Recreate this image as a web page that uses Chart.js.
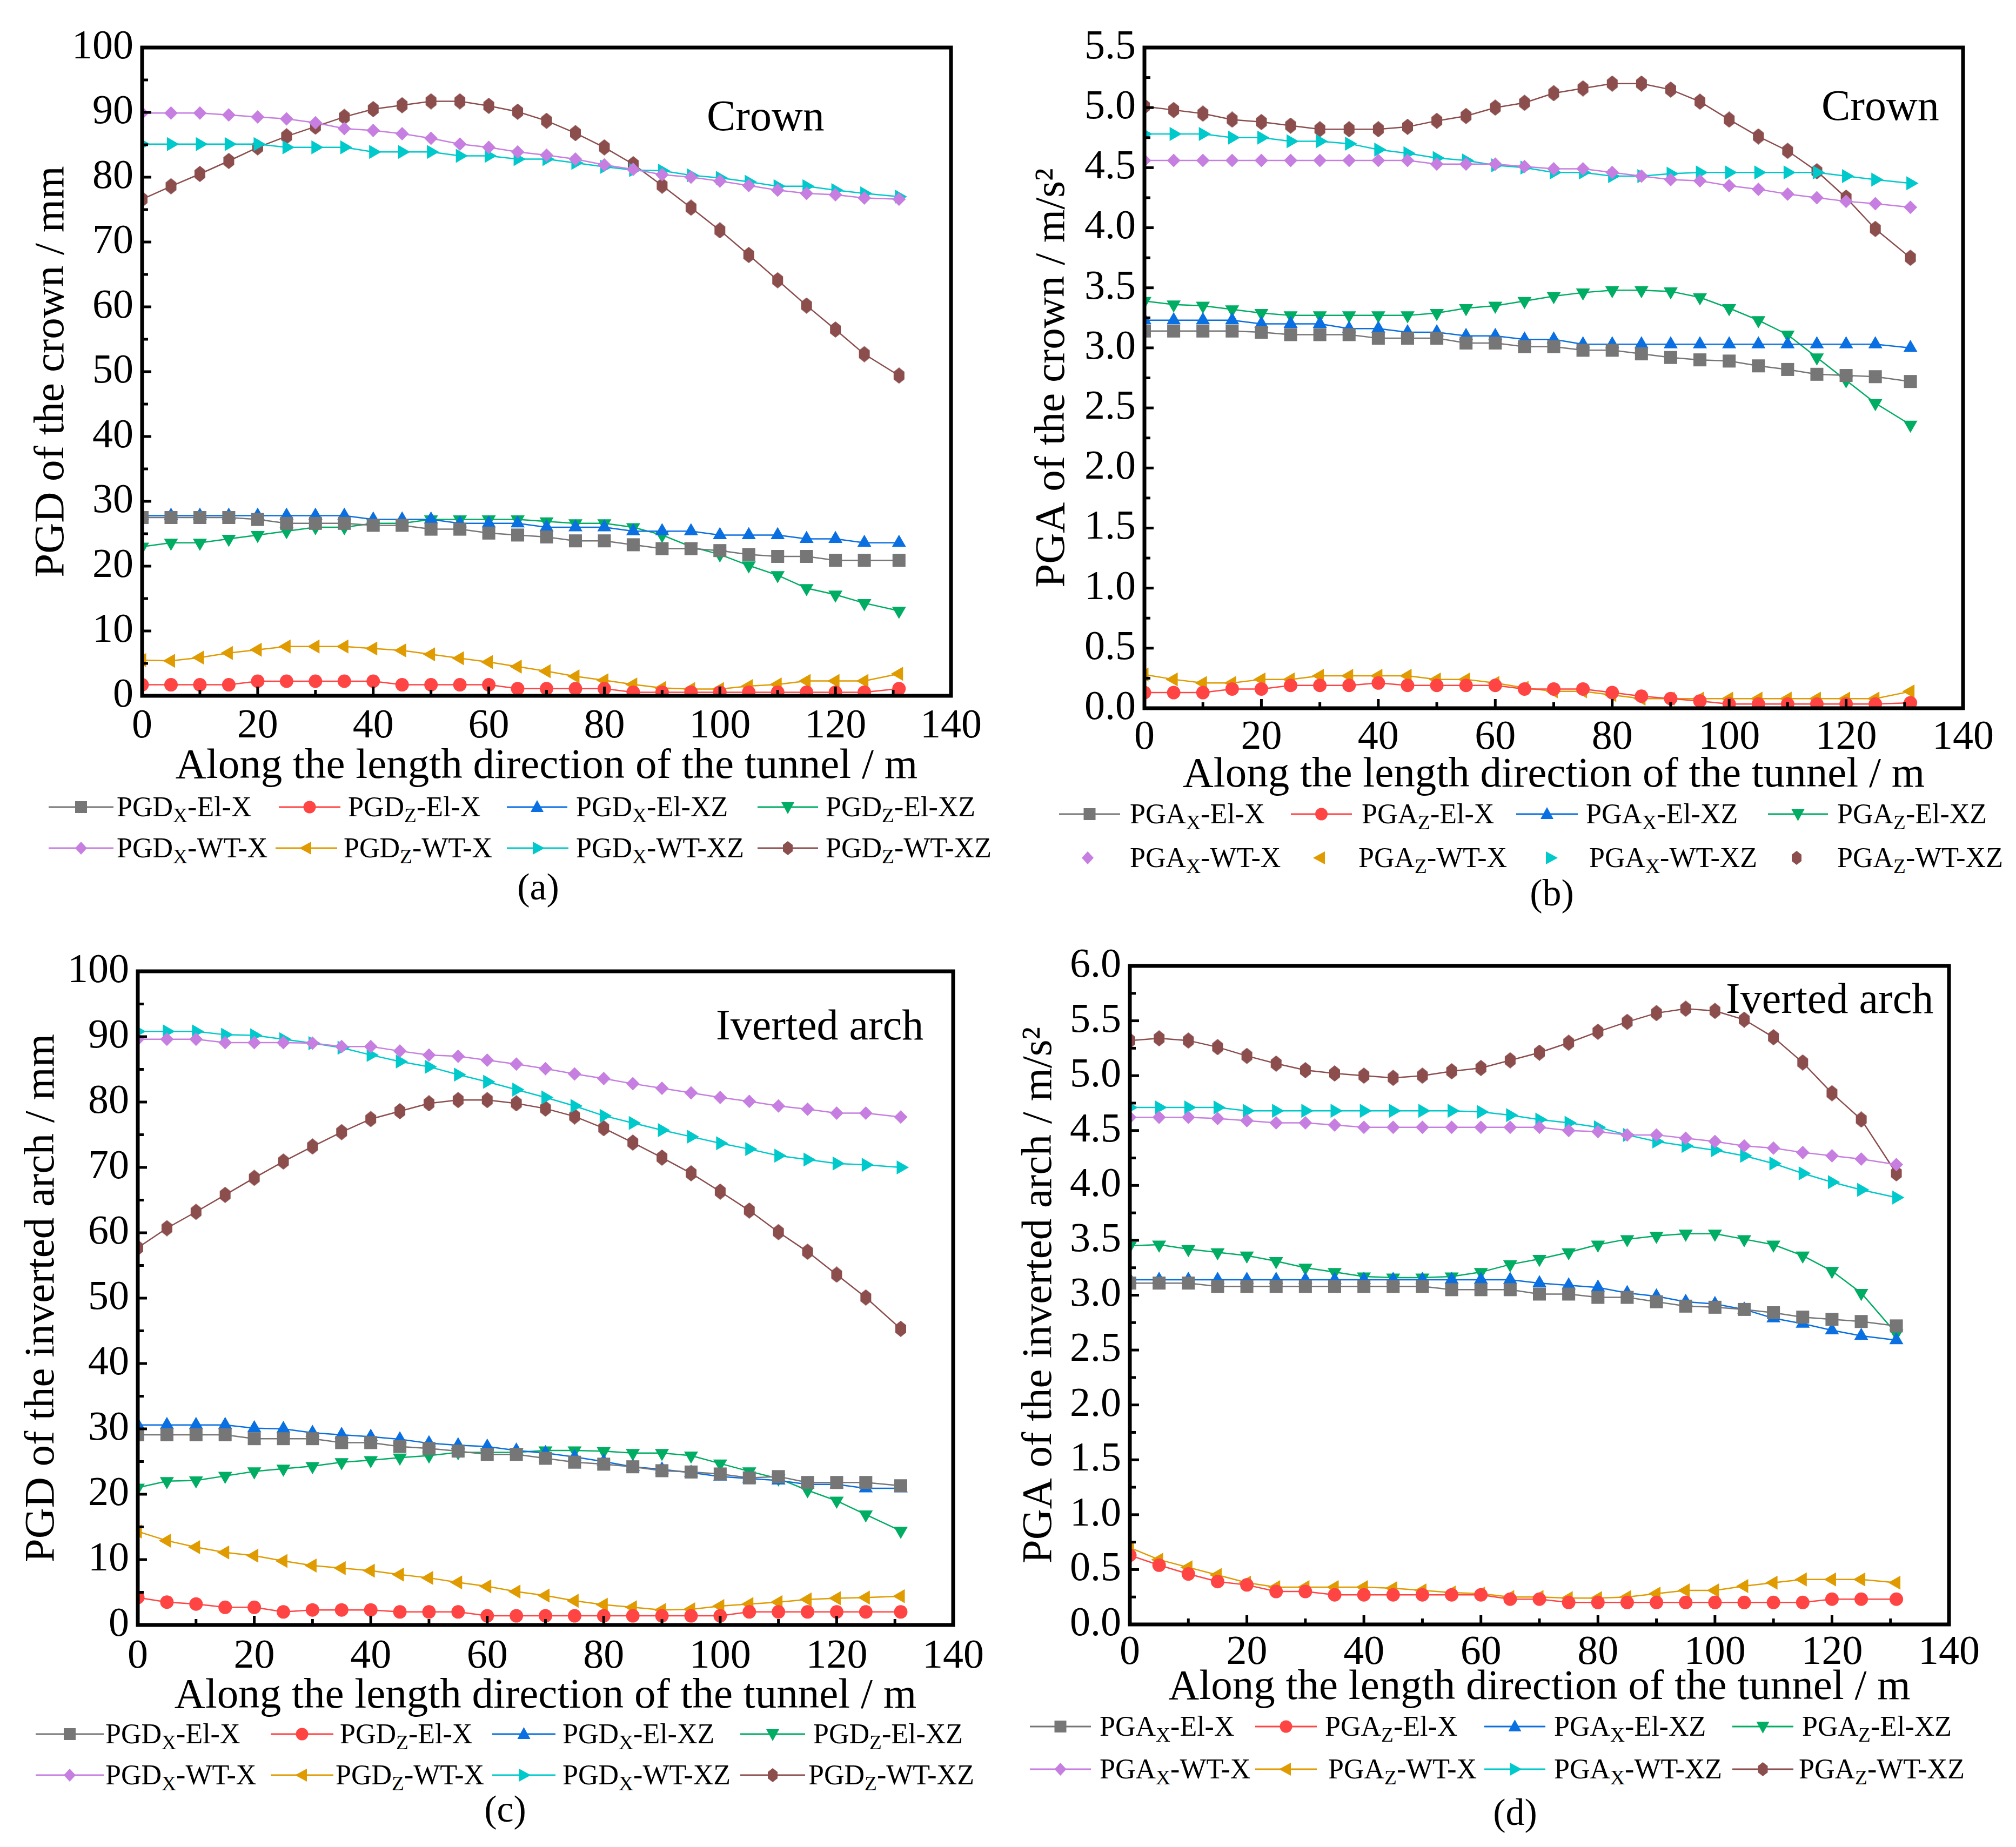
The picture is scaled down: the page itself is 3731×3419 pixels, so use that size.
<!DOCTYPE html>
<html><head><meta charset="utf-8">
<script src="https://cdn.jsdelivr.net/npm/chart.js@4.4.1/dist/chart.umd.min.js"></script>
<style>
html,body{margin:0;padding:0;background:#fff;}
#page{position:relative;width:3731px;height:3419px;overflow:hidden;background:#fff;font-family:'Liberation Serif','Times New Roman',serif;color:#000;}
#page canvas{position:absolute;}
.t{position:absolute;white-space:nowrap;line-height:1;transform:translateY(-50%);}
.c{position:absolute;white-space:nowrap;line-height:1;transform:translate(-50%,-50%);}
.lg{position:absolute;white-space:nowrap;line-height:1;font-size:52px;transform:translateY(-50%);}
.lg sub{font-size:0.72em;vertical-align:-0.3em;line-height:0;}
svg.mk{position:absolute;overflow:visible;}
</style></head><body><div id="page"></div>
<script>
// ---------- data ----------
const xPos = [0,5,10,15,20,25,30,35,40,45,50,55,60,65,70,75,80,85,90,95,100,105,110,115,120,125,131];
const xTicks = [0,20,40,60,80,100,120,140];
const seriesLabels = ['X-El-X','Z-El-X','X-El-XZ','Z-El-XZ','X-WT-X','Z-WT-X','X-WT-XZ','Z-WT-XZ'];

// (a) PGD of the crown / mm
const aElX_X  = [27.5,27.5,27.5,27.5,27.2,26.6,26.6,26.6,26.3,26.3,25.7,25.7,25.1,24.8,24.5,23.9,23.9,23.3,22.7,22.7,22.4,21.8,21.5,21.5,20.9,20.9,20.9];
const aElX_Z  = [1.7,1.7,1.7,1.7,2.25,2.25,2.25,2.25,2.25,1.7,1.7,1.7,1.7,1.1,1.1,1.1,1.1,0.55,0.55,0.55,0.55,0.55,0.55,0.55,0.55,0.55,1.1];
const aElXZ_X = [27.8,27.8,27.8,27.8,27.8,27.8,27.8,27.8,27.2,27.2,27.2,26.6,26.6,26.6,26.0,26.0,26.0,25.4,25.4,25.4,24.8,24.8,24.8,24.2,24.2,23.6,23.6];
const aElXZ_Z = [23.0,23.6,23.6,24.2,24.8,25.4,26.0,26.0,26.6,26.6,27.2,27.2,27.2,27.2,26.9,26.6,26.6,26.0,24.8,23.0,21.8,20.1,18.6,16.6,15.6,14.3,13.1];
const aWTX_X  = [89.9,89.9,89.9,89.6,89.3,89.0,88.4,87.5,87.2,86.7,86.0,85.1,84.6,83.9,83.4,82.8,81.9,81.2,80.4,80.0,79.4,78.7,78.0,77.5,77.3,76.8,76.6];
const aWTX_Z  = [5.5,5.4,5.9,6.6,7.1,7.6,7.6,7.6,7.3,7.0,6.4,5.8,5.2,4.5,3.8,3.0,2.4,1.75,1.2,1.05,1.05,1.5,1.75,2.3,2.3,2.3,3.4];
const aWTXZ_X = [85.1,85.1,85.1,85.1,85.1,84.6,84.6,84.6,83.9,83.9,83.9,83.3,83.3,82.8,82.8,82.2,81.6,81.1,81.0,80.3,79.9,79.3,78.6,78.6,78.0,77.5,77.0];
const aWTXZ_Z = [76.6,78.6,80.5,82.5,84.6,86.3,87.8,89.3,90.5,91.1,91.7,91.7,91.0,90.1,88.7,86.8,84.6,82.0,78.7,75.3,71.8,68.0,64.1,60.2,56.5,52.7,49.4];

// (b) PGA of the crown / m/s2
const bElX_X  = [3.14,3.14,3.14,3.14,3.13,3.11,3.11,3.11,3.08,3.08,3.08,3.04,3.04,3.01,3.01,2.98,2.98,2.95,2.92,2.90,2.89,2.85,2.82,2.78,2.77,2.76,2.72];
const bElX_Z  = [0.13,0.13,0.13,0.16,0.16,0.19,0.19,0.19,0.21,0.19,0.19,0.19,0.19,0.16,0.16,0.16,0.13,0.10,0.08,0.06,0.035,0.035,0.035,0.035,0.035,0.035,0.045];
const bElXZ_X = [3.23,3.23,3.23,3.23,3.20,3.20,3.20,3.16,3.16,3.13,3.13,3.10,3.10,3.07,3.07,3.03,3.03,3.03,3.03,3.03,3.03,3.03,3.03,3.03,3.03,3.03,3.00];
const bElXZ_Z = [3.39,3.36,3.35,3.32,3.29,3.27,3.27,3.27,3.27,3.27,3.29,3.33,3.35,3.39,3.43,3.46,3.48,3.48,3.47,3.42,3.33,3.23,3.11,2.92,2.73,2.54,2.36];
const bWTX_X  = [4.56,4.56,4.56,4.56,4.56,4.56,4.56,4.56,4.56,4.56,4.53,4.53,4.53,4.51,4.49,4.49,4.46,4.43,4.40,4.39,4.35,4.32,4.28,4.25,4.22,4.20,4.17];
const bWTX_Z  = [0.28,0.24,0.21,0.21,0.24,0.24,0.27,0.27,0.27,0.27,0.24,0.24,0.21,0.17,0.14,0.14,0.11,0.08,0.08,0.08,0.08,0.08,0.08,0.08,0.08,0.08,0.14];
const bWTXZ_X = [4.78,4.78,4.78,4.75,4.75,4.72,4.72,4.70,4.65,4.62,4.58,4.56,4.52,4.50,4.46,4.46,4.43,4.43,4.45,4.46,4.46,4.46,4.46,4.46,4.43,4.40,4.37];
const bWTXZ_Z = [5.01,4.98,4.95,4.90,4.88,4.85,4.82,4.82,4.82,4.84,4.89,4.93,5.00,5.04,5.12,5.16,5.20,5.20,5.15,5.05,4.90,4.76,4.64,4.47,4.25,3.99,3.75];

// (c) PGD of the inverted arch / mm
const cElX_X  = [29.1,29.1,29.1,29.1,28.5,28.5,28.5,27.9,27.9,27.3,27.0,26.6,26.1,26.1,25.5,24.9,24.6,24.2,23.6,23.4,23.1,22.5,22.7,21.8,21.8,21.8,21.3];
const cElX_Z  = [4.2,3.5,3.2,2.7,2.7,2.0,2.3,2.3,2.3,2.0,2.0,2.0,1.4,1.4,1.4,1.4,1.4,1.4,1.4,1.4,1.4,2.0,2.0,2.0,2.0,2.0,2.0];
const cElXZ_X = [30.6,30.6,30.6,30.6,30.1,30.0,29.4,29.1,28.8,28.4,27.8,27.5,27.3,26.7,26.3,25.7,25.0,24.2,23.8,23.3,22.7,22.4,22.1,21.5,21.5,20.9,20.9];
const cElXZ_Z = [21.0,22.0,22.1,22.8,23.5,23.9,24.3,24.9,25.2,25.6,25.9,26.4,26.4,26.4,26.7,26.7,26.6,26.3,26.3,25.9,24.7,23.5,22.4,20.6,19.0,16.9,14.4];
const cWTX_X  = [89.6,89.6,89.6,89.1,89.1,89.1,89.0,88.5,88.5,87.8,87.2,87.0,86.4,85.8,85.1,84.3,83.6,82.8,82.1,81.4,80.7,80.1,79.4,78.9,78.3,78.3,77.7];
const cWTX_Z  = [14.3,12.9,11.9,11.1,10.6,9.8,9.1,8.7,8.3,7.7,7.2,6.5,5.9,5.1,4.5,3.7,3.1,2.7,2.3,2.4,2.9,3.2,3.5,3.9,4.1,4.2,4.4];
const cWTXZ_X = [90.8,90.8,90.8,90.3,90.2,89.6,89.0,88.3,87.2,86.2,85.4,84.2,83.1,81.9,80.7,79.4,77.9,76.8,75.7,74.7,73.7,72.8,71.8,71.2,70.6,70.4,70.0];
const cWTXZ_Z = [57.7,60.7,63.2,65.8,68.4,70.9,73.2,75.4,77.4,78.6,79.8,80.3,80.3,79.8,79.0,77.8,76.0,73.8,71.5,69.1,66.3,63.4,60.1,57.1,53.6,50.1,45.3];

// (d) PGA of the inverted arch / m/s2
const dElX_X  = [3.11,3.11,3.11,3.08,3.08,3.08,3.08,3.08,3.08,3.08,3.08,3.05,3.05,3.05,3.01,3.01,2.98,2.98,2.94,2.90,2.89,2.87,2.84,2.80,2.78,2.76,2.72];
const dElX_Z  = [0.63,0.54,0.46,0.39,0.36,0.30,0.30,0.27,0.27,0.27,0.27,0.27,0.27,0.23,0.23,0.20,0.20,0.20,0.20,0.20,0.20,0.20,0.20,0.20,0.23,0.23,0.23];
const dElXZ_X = [3.14,3.14,3.14,3.14,3.14,3.14,3.14,3.14,3.14,3.14,3.14,3.14,3.14,3.14,3.11,3.09,3.07,3.02,2.99,2.94,2.92,2.87,2.79,2.74,2.68,2.63,2.59];
const dElXZ_Z = [3.45,3.46,3.42,3.39,3.36,3.31,3.25,3.21,3.17,3.16,3.16,3.17,3.21,3.28,3.33,3.39,3.46,3.51,3.54,3.56,3.56,3.51,3.46,3.36,3.22,3.02,2.65];
const dWTX_X  = [4.62,4.62,4.62,4.61,4.59,4.57,4.57,4.55,4.53,4.53,4.53,4.53,4.53,4.53,4.53,4.50,4.49,4.46,4.46,4.43,4.40,4.36,4.34,4.30,4.27,4.24,4.19];
const dWTX_Z  = [0.70,0.59,0.52,0.45,0.38,0.34,0.34,0.34,0.34,0.33,0.31,0.29,0.28,0.25,0.25,0.24,0.24,0.25,0.28,0.31,0.31,0.35,0.38,0.41,0.41,0.41,0.38];
const dWTXZ_X = [4.71,4.71,4.71,4.71,4.68,4.68,4.68,4.68,4.68,4.68,4.68,4.68,4.67,4.64,4.60,4.57,4.53,4.46,4.40,4.36,4.32,4.27,4.20,4.11,4.03,3.96,3.89];
const dWTXZ_Z = [5.32,5.34,5.32,5.26,5.18,5.11,5.05,5.02,5.00,4.98,5.00,5.04,5.07,5.14,5.21,5.30,5.40,5.49,5.57,5.61,5.59,5.51,5.35,5.12,4.84,4.60,4.11];

// ---------- styles ----------
const FONT = "'Liberation Serif','Times New Roman',serif";
const colors = ['#767676','#ff4444','#0a6fe0','#00ad63','#c67ee0','#df9b00','#00c9cc','#8c4d4d'];
const shapes = ['rect','circle','tri','tridown','diamond','trileft','triright','hex'];

function hexCanvas(color){
  const c=document.createElement('canvas'); c.width=22; c.height=30;
  const g=c.getContext('2d'); g.fillStyle=color; g.beginPath();
  g.moveTo(11,0); g.lineTo(21,8); g.lineTo(21,22); g.lineTo(11,30); g.lineTo(1,22); g.lineTo(1,8); g.closePath(); g.fill();
  return c;
}
function pointOpts(i){
  const s=shapes[i];
  switch(s){
    case 'rect': return {pointStyle:'rect',pointRadius:17,pointRotation:0};
    case 'circle': return {pointStyle:'circle',pointRadius:12.5,pointRotation:0};
    case 'tri': return {pointStyle:'triangle',pointRadius:15,pointRotation:0};
    case 'tridown': return {pointStyle:'triangle',pointRadius:15,pointRotation:180};
    case 'diamond': return {pointStyle:'rectRot',pointRadius:12.5,pointRotation:0};
    case 'trileft': return {pointStyle:'triangle',pointRadius:15,pointRotation:-90};
    case 'triright': return {pointStyle:'triangle',pointRadius:15,pointRotation:90};
    case 'hex': return {pointStyle:hexCanvas(colors[i]),pointRadius:12,pointRotation:0};
  }
}
function svgShape(s,cx,cy,col){
  switch(s){
    case 'rect': return `<rect x="${cx-11}" y="${cy-11}" width="22" height="22" fill="${col}"/>`;
    case 'circle': return `<circle cx="${cx}" cy="${cy}" r="11.5" fill="${col}"/>`;
    case 'tri': return `<polygon points="${cx},${cy-13} ${cx+12},${cy+9} ${cx-12},${cy+9}" fill="${col}"/>`;
    case 'tridown': return `<polygon points="${cx},${cy+13} ${cx+12},${cy-9} ${cx-12},${cy-9}" fill="${col}"/>`;
    case 'diamond': return `<polygon points="${cx},${cy-12} ${cx+11},${cy} ${cx},${cy+12} ${cx-11},${cy}" fill="${col}"/>`;
    case 'trileft': return `<polygon points="${cx-13},${cy} ${cx+9},${cy-12} ${cx+9},${cy+12}" fill="${col}"/>`;
    case 'triright': return `<polygon points="${cx+13},${cy} ${cx-9},${cy-12} ${cx-9},${cy+12}" fill="${col}"/>`;
    case 'hex': return `<polygon points="${cx},${cy-13} ${cx+9},${cy-6} ${cx+9},${cy+6} ${cx},${cy+13} ${cx-9},${cy+6} ${cx-9},${cy-6}" fill="${col}"/>`;
  }
}

const panels = [
  {tag:'(a)', prefix:'PGD', left:0, top:0, W:1870, L:263, T:88, R:1760, B:1288, tickOff:11, titleOff:132, yTitleX:96,
   yMax:100, yStep:10, dec:0, yTitle:'PGD of the crown / mm',
   data:[aElX_X,aElX_Z,aElXZ_X,aElXZ_Z,aWTX_X,aWTX_Z,aWTXZ_X,aWTXZ_Z],
   note:{text:'Crown', x:1308, y:214}, tagPos:[996,1642],
   rows:[1494,1570], legend:[[[90,210,216],[516,630,644],[938,1050,1066],[1402,1514,1528]],[[90,210,216],[510,624,636],[938,1052,1066],[1402,1514,1528]]], row2Line:true},
  {tag:'(b)', prefix:'PGA', left:1870, top:0, W:1861, L:248, T:88, R:1763, B:1311, tickOff:9, titleOff:125, yTitleX:78,
   yMax:5.5, yStep:0.5, dec:1, yTitle:'PGA of the crown / m/s\u00b2',
   data:[bElX_X,bElX_Z,bElXZ_X,bElXZ_Z,bWTX_X,bWTX_Z,bWTXZ_X,bWTXZ_Z],
   note:{text:'Crown', x:3371, y:195}, tagPos:[2872,1653],
   rows:[1507,1588], legend:[[[1960,2073,2091],[2389,2502,2520],[2806,2920,2935],[3272,3383,3400]],[[1957,2069,2091],[2387,2499,2514],[2814,2926,2941],[3269,3381,3400]]], row2Line:false},
  {tag:'(c)', prefix:'PGD', left:0, top:1700, W:1870, L:255, T:98, R:1764, B:1308, tickOff:13, titleOff:133, yTitleX:78,
   yMax:100, yStep:10, dec:0, yTitle:'PGD of the inverted arch / mm',
   data:[cElX_X,cElX_Z,cElXZ_X,cElXZ_Z,cWTX_X,cWTX_Z,cWTXZ_X,cWTXZ_Z],
   note:{text:'Iverted arch', x:1325, y:1897}, tagPos:[935,3349],
   rows:[3210,3286], legend:[[[66,192,195],[501,617,629],[911,1028,1041],[1370,1490,1505]],[[66,192,195],[501,617,621],[911,1028,1041],[1370,1490,1496]]], row2Line:true},
  {tag:'(d)', prefix:'PGA', left:1870, top:1700, W:1861, L:221, T:88, R:1737, B:1307, tickOff:7, titleOff:118, yTitleX:54,
   yMax:6, yStep:0.5, dec:1, yTitle:'PGA of the inverted arch / m/s\u00b2',
   data:[dElX_X,dElX_Z,dElXZ_X,dElXZ_Z,dWTX_X,dWTX_Z,dWTXZ_X,dWTXZ_Z],
   note:{text:'Iverted arch', x:3194, y:1848}, tagPos:[2804,3355],
   rows:[3196,3275], legend:[[[1906,2019,2035],[2323,2437,2452],[2747,2860,2876],[3206,3319,3335]],[[1906,2019,2035],[2323,2437,2458],[2747,2860,2876],[3206,3319,3329]]], row2Line:true}
];

const page=document.getElementById('page');
const TICK_FS=76, TITLE_FS=79, TITLE_LH=TITLE_FS*1.2;

const framePlugin = {
  id:'frame',
  afterDraw(chart, args, opts){
    const {ctx, chartArea:a, scales} = chart;
    ctx.save();
    ctx.strokeStyle='#000'; ctx.lineCap='butt';
    ctx.lineWidth=5;
    const xs=scales.x, ys=scales.y;
    for(let v=0; v<=140; v+=10){
      const px=xs.getPixelForValue(v); const len=(v%20===0)?17:11;
      ctx.beginPath(); ctx.moveTo(px,a.bottom); ctx.lineTo(px,a.bottom-len); ctx.stroke();
    }
    const st=opts.step/2;
    for(let k=0; k*st<=opts.max+1e-9; k++){
      const v=k*st; const py=ys.getPixelForValue(v); const len=(k%2===0)?17:11;
      ctx.beginPath(); ctx.moveTo(a.left,py); ctx.lineTo(a.left+len,py); ctx.stroke();
    }
    ctx.lineWidth=7;
    ctx.strokeRect(a.left, a.top, a.right-a.left, a.bottom-a.top);
    ctx.restore();
  }
};

panels.forEach(p=>{
  const H = Math.round(p.B + p.titleOff + TITLE_LH/2);
  const cv=document.createElement('canvas');
  cv.width=p.W; cv.height=H;
  cv.style.left=p.left+'px'; cv.style.top=p.top+'px';
  cv.style.width=p.W+'px'; cv.style.height=H+'px';
  page.appendChild(cv);
  const datasets = p.data.map((arr,i)=>Object.assign({
    label: p.prefix+seriesLabels[i],
    data: xPos.map((x,j)=>({x:x,y:arr[j]})),
    borderColor: colors[i], backgroundColor: colors[i],
    borderWidth: 2.5, pointBorderWidth: 0, tension: 0, fill:false
  }, pointOpts(i)));
  new Chart(cv, {
    type:'line',
    data:{datasets},
    options:{
      responsive:false, animation:false, devicePixelRatio:1,
      layout:{padding:{left:0, top:p.T, right:p.W-p.R, bottom:0}},
      plugins:{legend:{display:false}, tooltip:{enabled:false}, frame:{step:p.yStep, max:p.yMax}},
      scales:{
        x:{type:'linear', min:0, max:140, position:'bottom',
           afterBuildTicks(s){ s.ticks = xTicks.map(v=>({value:v})); },
           ticks:{font:{family:FONT,size:TICK_FS}, color:'#000', padding:p.tickOff, maxRotation:0, autoSkip:false},
           grid:{display:false, drawTicks:false}, border:{display:false},
           title:{display:true, text:'Along the length direction of the tunnel / m', color:'#000',
                  font:{family:FONT,size:TITLE_FS,lineHeight:1.2}, padding:0},
           afterFit(s){ s.height = H - p.B; }},
        y:{type:'linear', min:0, max:p.yMax,
           ticks:{stepSize:p.yStep, font:{family:FONT,size:TICK_FS}, color:'#000', padding:16, autoSkip:false,
                  callback:(v)=>Number(v).toFixed(p.dec)},
           grid:{display:false, drawTicks:false}, border:{display:false},
           title:{display:true, text:p.yTitle, color:'#000', font:{family:FONT,size:TITLE_FS,lineHeight:1.2},
                  padding:{top:p.yTitleX - TITLE_LH/2, bottom:0}},
           afterFit(s){ s.width = p.L; }}
      }
    },
    plugins:[framePlugin]
  });

  const n=document.createElement('div'); n.className='t'; n.textContent=p.note.text;
  n.style.left=p.note.x+'px'; n.style.top=p.note.y+'px'; n.style.fontSize='80px'; page.appendChild(n);
  const tg=document.createElement('div'); tg.className='c'; tg.textContent=p.tag;
  tg.style.left=p.tagPos[0]+'px'; tg.style.top=p.tagPos[1]+'px'; tg.style.fontSize='70px'; page.appendChild(tg);
  p.legend.forEach((row,ri)=>{
    row.forEach((it,ci)=>{
      const i=ri*4+ci; const y=p.rows[ri];
      const [ls,le,tx]=it; const w=le-ls;
      const svg=document.createElementNS('http://www.w3.org/2000/svg','svg');
      svg.setAttribute('class','mk'); svg.setAttribute('width',w); svg.setAttribute('height',40);
      svg.style.left=ls+'px'; svg.style.top=(y-20)+'px';
      let inner='';
      if(ri===0 || p.row2Line) inner+=`<line x1="0" y1="20" x2="${w}" y2="20" stroke="${colors[i]}" stroke-width="3"/>`;
      inner+=svgShape(shapes[i], w/2, 20, colors[i]);
      svg.innerHTML=inner; page.appendChild(svg);
      const lab=seriesLabels[i];
      const t=document.createElement('div'); t.className='lg';
      t.innerHTML=p.prefix+'<sub>'+lab[0]+'</sub>'+lab.slice(1);
      t.style.left=tx+'px'; t.style.top=y+'px'; page.appendChild(t);
    });
  });
});
</script></body></html>
